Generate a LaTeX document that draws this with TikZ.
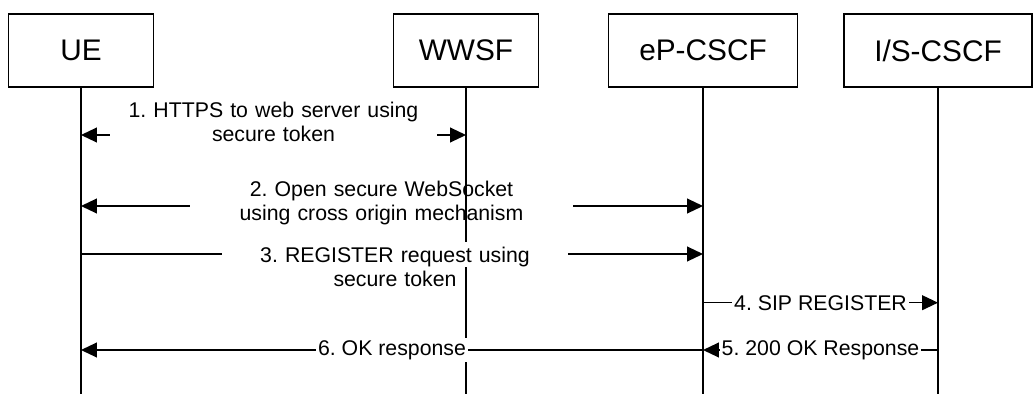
\documentclass[tikz,border=0pt]{standalone}
\usepackage{fontspec}
\setmainfont{Liberation Sans}
\usetikzlibrary{arrows.meta}
\definecolor{trazo}{gray}{0}
\frenchspacing

\begin{document}
\begin{tikzpicture}[
  x=0.47pt, y=-0.47pt,
  font=\fontsize{10}{11.7}\selectfont,
  >={Triangle[length=7.5pt, width=7pt]},
  entidad/.style={draw=trazo, line width=0.6pt, minimum height=34.3pt,
                  inner sep=0pt, font=\fontsize{14}{16}\selectfont},
  vida/.style={draw=trazo, line width=0.6pt},
  mensaje/.style={draw=trazo, line width=0.6pt},
  etiqueta/.style={fill=white, inner sep=1pt},
  bloque/.style={fill=white, align=center, inner xsep=0pt, inner ysep=2pt,
                 anchor=base}
]
\useasboundingbox (0,0) rectangle (1033,394);

\node[entidad, minimum width=68pt] (ue) at (81,50.5) {UE};
\node[entidad, minimum width=68pt] (wwsf) at (466,50.5) {WWSF};
\node[entidad, minimum width=89pt] (epcscf) at (703,50.5) {eP-CSCF};
\node[entidad, minimum width=88.4pt] (iscscf) at (938,50.5) {I/S-CSCF};

\coordinate (fin) at (0,394);
\coordinate (m1) at (0,135);
\coordinate (m2) at (0,206);
\coordinate (m3) at (0,254);
\coordinate (m4) at (0,302.7);
\coordinate (m5) at (0,350);

\draw[mensaje, <->] (ue |- m1) -- (wwsf |- m1);
\node[bloque, text width=153.7pt] (e1) at (273.5,117) {1. HTTPS to web server using\\secure token};
\draw[mensaje, <->] (ue |- m2) -- (epcscf |- m2);
\node[bloque, text width=180pt] (e2) at (381.5,196) {2. Open secure WebSocket\\using cross origin mechanism};

\foreach \n in {ue, wwsf, epcscf, iscscf}
  \draw[vida] (\n.south) -- (\n.south |- fin);

\draw[mensaje, ->] (ue |- m3) -- (epcscf |- m3);
\node[bloque, text width=163pt, text depth=0.5pt] (e3) at (395,262) {3. REGISTER request using\\secure token};

\draw[mensaje, ->] (epcscf |- m4) -- node[etiqueta] (e4) {4. SIP REGISTER} (iscscf |- m4);
\draw[mensaje, <-] (epcscf |- m5) -- node[etiqueta] (e5) {5. 200 OK Response} (iscscf |- m5);
\draw[mensaje, <-] (ue |- m5) -- node[etiqueta] (e6) {6. OK response} (epcscf |- m5);

\end{tikzpicture}
\end{document}
